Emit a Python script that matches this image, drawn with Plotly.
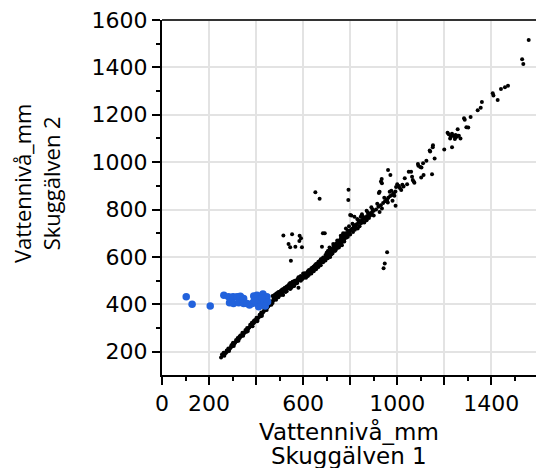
import plotly.graph_objects as go

# Black series (Skuggälven 1 vs Skuggälven 2)
black_x = [
    251,258,262,268,272,276,281,285,289,293,297,300,304,308,312,316,320,324,327,331,
    335,338,342,346,350,353,357,361,364,368,372,376,380,384,388,391,395,398,402,406,
    410,414,418,421,425,429,432,436,440,444,447,451,455,458,462,466,470,474,478,
    300,330,360,390,420,445,470,405,
    255,265,275,285,295,305,315,325,335,345,355,365,375,385,395,405,415,425,435,445,
    455,465,475,262,282,302,322,342,362,382,402,422,442,462,
    480,484,488,492,495,500,504,508,512,517,521,525,530,534,538,542,546,551,555,560,564,568,
    478,485,495,505,515,522,530,540,548,555,562,470,490,500,510,545,575,580,
    485,495,505,515,525,535,545,555,565,575,585,595,605,615,625,635,645,655,665,675,
    685,695,705,490,520,550,580,610,640,670,700,530,560,590,620,650,680,510,540,570,
    600,630,660,690,
    572,577,582,586,590,595,600,605,610,615,620,625,630,636,641,646,651,656,662,667,
    672,677,683,688,693,698,580,590,600,612,625,635,645,655,665,675,685,695,620,660,700,
    703,708,713,718,724,729,734,740,745,750,755,760,766,771,776,781,786,792,797,
    705,712,720,730,738,745,752,760,770,775,782,790,795,800,715,728,765,
    710,720,730,740,750,760,770,780,790,735,755,775,795,815,825,835,845,855,865,875,
    885,895,812,832,852,872,892,725,745,765,785,
    802,808,815,822,828,835,842,850,857,864,871,878,885,892,900,
    810,820,830,840,850,860,870,880,890,900,805,818,845,800,870,
    910,920,930,940,948,955,962,970,978,985,992,915,935,945,960,975,988,995,925,968,
    1559,1531,1536,1471,1458,1441,1427,1406,1409,1360,1355,1342,1312,1284,1287,1294,1302,1257,1219,1240,
    1225,1262,1250,1269,1214,1233,1248,1258,1228,1245,1233,1200,1152,1151,1138,1140,1159,1124,1110,1090,
    1098,1103,1088,1148,1112,1102,1049,1059,1032,1063,1066,1070,1073,1042,1017,1027,1000,1005,1007,1012,
    1022,961,971,934,931,935,925,922,957,980,993,
    652,670,516,553,585,591,584,538,545,567,595,548,692,957,947,942,793,792,680,684,
]
black_y = [
    176,184,186,193,196,200,206,210,214,219,223,226,231,234,240,244,247,252,255,259,
    264,268,272,276,279,283,287,291,296,299,304,308,312,316,320,323,327,331,335,340,
    344,349,352,357,361,366,370,374,379,383,387,390,395,400,404,408,413,418,421,
    233,266,285,330,350,392,406,333,
    188,183,205,203,228,224,250,246,270,268,292,288,314,308,334,329,356,352,380,376,
    400,398,425,196,214,238,258,280,300,322,344,366,388,412,
    425,430,432,438,441,444,446,450,452,455,458,462,466,468,471,474,477,480,483,486,490,492,
    440,445,430,458,440,470,455,485,468,495,478,435,448,452,462,490,505,470,
    420,452,440,465,452,478,465,475,500,490,515,505,530,518,525,552,540,570,558,590,
    578,608,595,438,462,488,508,531,556,582,618,475,497,520,540,565,592,445,468,488,
    510,535,560,590,
    496,500,503,506,510,513,516,520,524,527,531,535,539,543,547,551,556,560,565,570,
    575,580,586,591,596,601,515,500,530,512,545,530,560,548,580,565,598,585,520,572,612,
    606,611,616,621,627,633,638,645,650,655,661,667,674,680,686,692,697,703,708,
    625,640,612,650,628,670,640,690,700,665,720,685,730,695,600,655,650,
    625,635,645,657,668,678,690,700,712,625,648,675,698,735,725,755,742,770,760,788,
    775,800,705,720,745,765,780,615,638,662,682,
    714,719,726,733,738,744,750,756,760,766,772,778,783,788,795,
    740,715,760,730,780,745,795,765,810,775,775,770,770,777,755,
    800,812,818,828,835,842,850,857,862,869,876,825,805,850,830,880,858,895,790,875,
    1516,1434,1414,1323,1316,1309,1262,1291,1281,1254,1230,1219,1191,1185,1179,1147,1146,1139,1118,1110,
    1100,1112,1105,1100,1124,1120,1115,1112,1108,1098,1063,1054,1072,1063,1049,1045,1016,1006,995,985,
    980,978,992,949,946,935,960,960,932,939,925,918,913,907,883,897,907,897,900,890,
    905,967,946,929,918,911,875,870,840,837,816,
    873,846,691,696,690,679,667,655,641,643,641,584,700,620,573,552,884,840,643,700,
]

# Blue (highlighted) series
blue_x = [103,128,205,263,283,302,319,333,347,287,304,326,347,372,383,390,404,418,429,432,
          436,418,404,446,449,439,411,361,392,425]
blue_y = [432,401,393,439,432,432,432,434,425,407,404,407,404,397,404,435,439,425,444,418,
          404,404,404,432,411,393,390,404,415,428]

x_tickvals = [0, 200, 400, 600, 800, 1000, 1200, 1400]
x_ticktext = ["0", "200", "", "600", "", "1000", "", "1400"]
y_tickvals = [200, 400, 600, 800, 1000, 1200, 1400, 1600]
y_ticktext = ["200", "400", "600", "800", "1000", "1200", "1400", "1600"]

x_title_lines = ["Vattennivå_mm", "Skuggälven 1"]
y_title = "Vattennivå_mm<br>Skuggälven 2"

fig = go.Figure()
fig.add_trace(go.Scatter(x=black_x, y=black_y, mode="markers",
                         marker=dict(color="black", size=4, line=dict(width=0)),
                         showlegend=False, hoverinfo="x+y"))
fig.add_trace(go.Scatter(x=blue_x, y=blue_y, mode="markers",
                         marker=dict(color="#2262dc", size=7.5, line=dict(width=0)),
                         showlegend=False, hoverinfo="x+y"))

tickfont = dict(family="DejaVu Sans", size=22, color="black")
xt_font = dict(family="DejaVu Sans", size=23, color="black")

fig.update_layout(
    width=536, height=468,
    margin=dict(l=162, r=0, t=20, b=93),
    paper_bgcolor="white", plot_bgcolor="white",
    xaxis=dict(
        range=[0, 1590], tickmode="array", tickvals=x_tickvals, ticktext=x_ticktext,
        ticks="outside", ticklen=8, tickwidth=1.5, tickcolor="black",
        showgrid=True, gridcolor="#e3e3e3", gridwidth=2,
        showline=True, linecolor="black", linewidth=2, zeroline=False,
        tickfont=tickfont,
        minor=dict(tickvals=[100, 300, 500, 700, 900, 1100, 1300, 1500], ticks="outside",
                   ticklen=4, tickwidth=1.5, tickcolor="black", showgrid=False),
    ),
    yaxis=dict(
        range=[102, 1600], tickmode="array", tickvals=y_tickvals, ticktext=y_ticktext,
        ticks="outside", ticklen=8, tickwidth=1.5, tickcolor="black",
        showgrid=True, gridcolor="#e3e3e3", gridwidth=2,
        showline=True, linecolor="black", linewidth=2, zeroline=False,
        tickfont=tickfont,
        minor=dict(tickvals=[300, 500, 700, 900, 1100, 1300, 1500], ticks="outside",
                   ticklen=4, tickwidth=1.5, tickcolor="black", showgrid=False),
    ),
    annotations=[
        dict(text=y_title, textangle=-90, xref="paper", yref="paper",
             x=-0.334, y=0.541, xanchor="center", yanchor="middle", showarrow=False,
             font=dict(family="Open Sans", size=22, color="black")),
        dict(text=x_title_lines[0], xref="paper", yref="paper",
             x=0.5, y=-0.158, xanchor="center", yanchor="middle", showarrow=False,
             font=xt_font),
        dict(text=x_title_lines[1], xref="paper", yref="paper",
             x=0.5, y=-0.227, xanchor="center", yanchor="middle", showarrow=False,
             font=xt_font),
    ],
    shapes=[dict(type="line", xref="paper", yref="paper", x0=0, x1=1, y0=1, y1=1,
                 line=dict(color="#333333", width=2))],
)

fig.write_html("out.html")
